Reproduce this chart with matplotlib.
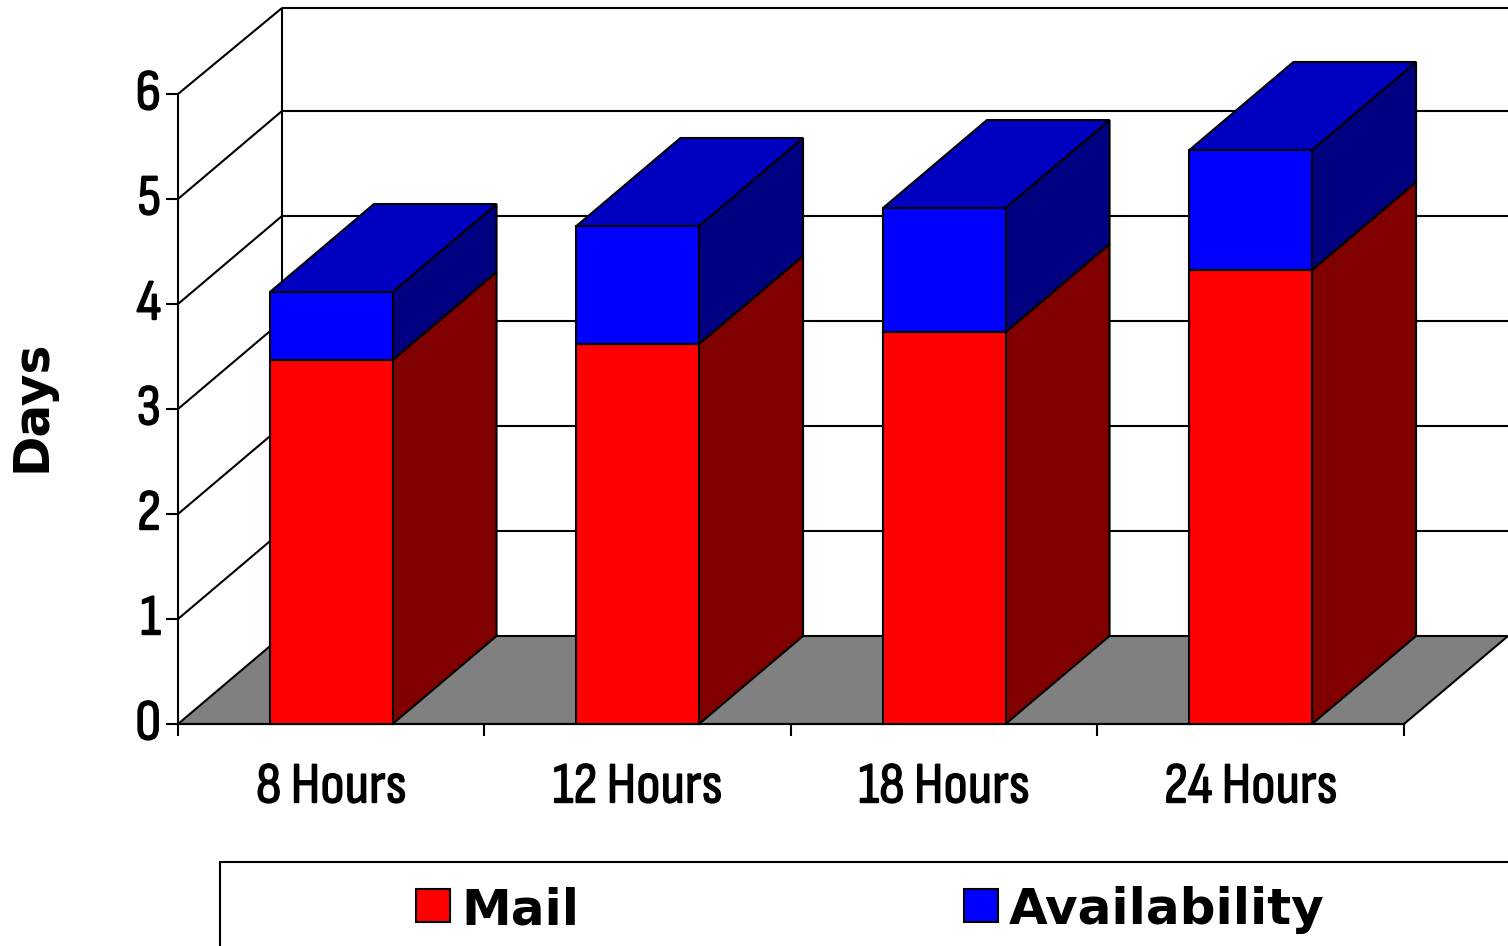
import matplotlib
matplotlib.use("Agg")
import matplotlib.pyplot as plt
import matplotlib.patheffects as pe
from matplotlib.patches import Polygon, Rectangle

categories = ["8 Hours", "12 Hours", "18 Hours", "24 Hours"]
mail = [3.467, 3.62, 3.733, 4.324]
availability = [0.647, 1.123, 1.181, 1.143]
y_ticks = [0, 1, 2, 3, 4, 5, 6]

W, H = 1508, 946
X0, UX = 178, 306.5   # pixels: first tick, width of one category
Y0, UY = 724, 105.0   # pixels: zero line, height of one day
DX = 104 / UX         # depth of the 3d box, in data units
DY = 88 / UY
WALL_TOP = (Y0 - 8) / UY

plt.rcParams["font.family"] = ["Sofia Sans Condensed", "Liberation Sans", "DejaVu Sans"]
fig = plt.figure(figsize=(W / 100, H / 100), dpi=100)
ax = fig.add_axes([0, 0, 1, 1])
ax.set_xlim(-X0 / UX, (W - X0) / UX)
ax.set_ylim((Y0 - H) / UY, Y0 / UY)
ax.axis("off")

n = len(categories)
LW = 1.5
# the condensed font only comes in a light weight, thicken it a bit
heavy = [pe.withStroke(linewidth=1.0, foreground="black")]


def poly(pts, color, z=2):
    ax.add_patch(Polygon(pts, closed=True, facecolor=color, edgecolor="black", lw=LW, zorder=z, clip_on=False))


def line(xs, ys, lw=LW, z=1):
    ax.plot(xs, ys, color="black", lw=lw, zorder=z, solid_capstyle="butt")


# floor and back wall
poly([(0, 0), (n, 0), (n + DX, DY), (DX, DY)], "#808080", 1)
top = y_ticks[-1]
line([DX, DX], [DY, WALL_TOP])
line([DX, n + 1], [WALL_TOP, WALL_TOP])
line([0, DX], [top, WALL_TOP])
for t in y_ticks[1:-1]:
    line([0, DX], [t, t + DY])
    line([DX, n + 1], [t + DY, t + DY])
line([0, 0], [0, top])

# ticks
for t in y_ticks:
    line([-12 / UX, 0], [t, t])
    ax.text(-17 / UX, t - 1 / UY, str(t), ha="right", va="center", fontsize=42, color="black", path_effects=heavy)
for i in range(n + 1):
    line([i, i], [0, -12 / UY])
line([0, n], [0, 0], z=3)
for i, c in enumerate(categories):
    ax.text(i + 0.5, -64 / UY, c, ha="center", va="center", fontsize=42, color="black", path_effects=heavy)


def bar_3d(x, base, h, front, dark):
    w = 0.4
    l, r = x - w / 2, x + w / 2
    t = base + h
    poly([(r, base), (r + DX, base + DY), (r + DX, t + DY), (r, t)], dark, 4)
    poly([(l, t), (r, t), (r + DX, t + DY), (l + DX, t + DY)], "#0000c0" if front == "#0000ff" else dark, 4)
    poly([(l, base), (r, base), (r, t), (l, t)], front, 5)


for i in range(n):
    bar_3d(i + 0.5, 0, mail[i], "#ff0000", "#800000")
    bar_3d(i + 0.5, mail[i], availability[i], "#0000ff", "#000080")

# axis title
ax.text(-146 / UX, 3.03, "Days", rotation=90, ha="center", va="center", fontsize=35,
        fontweight="bold", family=["DejaVu Sans"])

# legend box, runs off the right and bottom of the figure
ax.add_patch(Rectangle(((220 - X0) / UX, (Y0 - 960) / UY), (W + 40 - 220) / UX, 98 / UY,
                       facecolor="white", edgecolor="black", lw=LW, zorder=1))
legend = [("Mail", "#ff0000", 416), ("Availability", "#0000ff", 964)]
for label, color, px in legend:
    ax.add_patch(Rectangle(((px - X0) / UX, (Y0 - 922) / UY), 34 / UX, 33 / UY,
                           facecolor=color, edgecolor="black", lw=LW, zorder=2))
    ax.text((px + 45 - X0) / UX, (Y0 - 910) / UY, label, ha="left", va="center", fontsize=36,
            fontweight="bold", family=["DejaVu Sans"], zorder=2)

fig.savefig("out.png", dpi=100)
